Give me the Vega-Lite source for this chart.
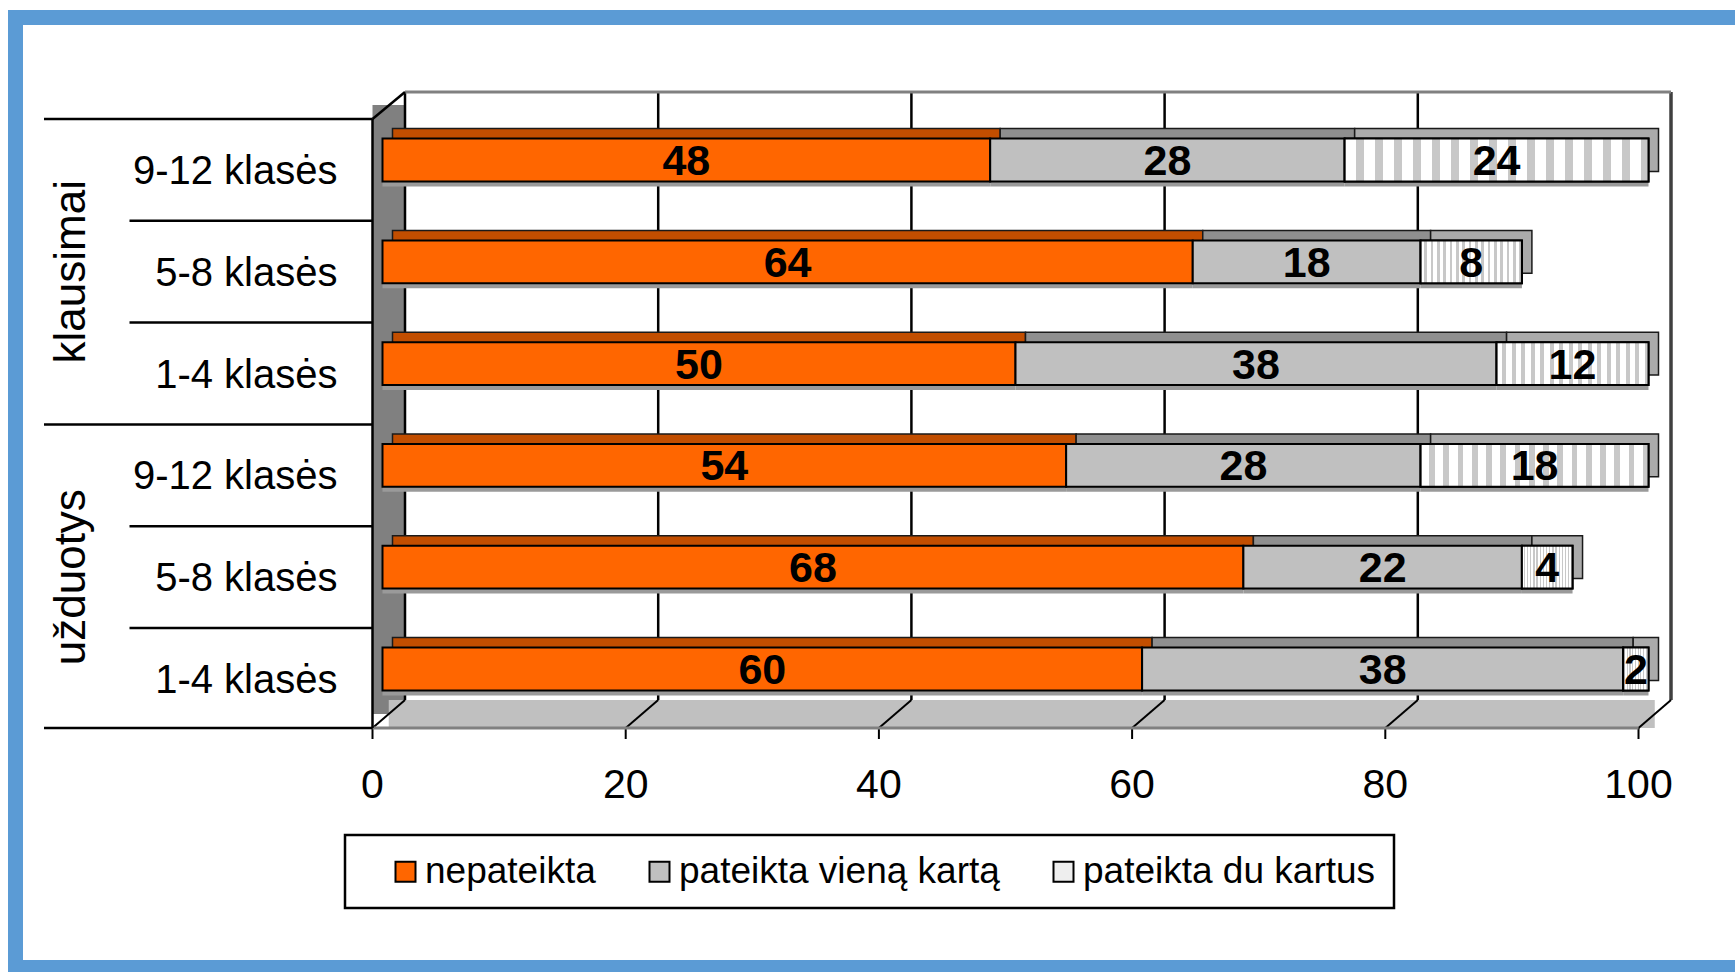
{
  "$schema": "https://vega.github.io/schema/vega-lite/v6.json",
  "autosize": {"type": "none"},
  "padding": {"left": 15.5, "top": 17.5, "right": 0, "bottom": 4.5},
  "width": 1719.5,
  "height": 950,
  "background": "white",
  "view": {"stroke": "#5B9BD5", "strokeWidth": 15, "strokeDash": [1719.5, 950, 2669.5], "strokeCap": "square", "fill": "white"},
  "datasets": {
    "bars": [
      {"row": "klausimai 9-12 klasės", "grupe": "klausimai", "klase": "9-12 klasės", "series": "nepateikta", "ord": 1, "value": 48},
      {"row": "klausimai 9-12 klasės", "grupe": "klausimai", "klase": "9-12 klasės", "series": "pateikta vieną kartą", "ord": 2, "value": 28},
      {"row": "klausimai 9-12 klasės", "grupe": "klausimai", "klase": "9-12 klasės", "series": "pateikta du kartus", "ord": 3, "value": 24},
      {"row": "klausimai 5-8 klasės", "grupe": "klausimai", "klase": "5-8 klasės", "series": "nepateikta", "ord": 1, "value": 64},
      {"row": "klausimai 5-8 klasės", "grupe": "klausimai", "klase": "5-8 klasės", "series": "pateikta vieną kartą", "ord": 2, "value": 18},
      {"row": "klausimai 5-8 klasės", "grupe": "klausimai", "klase": "5-8 klasės", "series": "pateikta du kartus", "ord": 3, "value": 8},
      {"row": "klausimai 1-4 klasės", "grupe": "klausimai", "klase": "1-4 klasės", "series": "nepateikta", "ord": 1, "value": 50},
      {"row": "klausimai 1-4 klasės", "grupe": "klausimai", "klase": "1-4 klasės", "series": "pateikta vieną kartą", "ord": 2, "value": 38},
      {"row": "klausimai 1-4 klasės", "grupe": "klausimai", "klase": "1-4 klasės", "series": "pateikta du kartus", "ord": 3, "value": 12},
      {"row": "užduotys 9-12 klasės", "grupe": "užduotys", "klase": "9-12 klasės", "series": "nepateikta", "ord": 1, "value": 54},
      {"row": "užduotys 9-12 klasės", "grupe": "užduotys", "klase": "9-12 klasės", "series": "pateikta vieną kartą", "ord": 2, "value": 28},
      {"row": "užduotys 9-12 klasės", "grupe": "užduotys", "klase": "9-12 klasės", "series": "pateikta du kartus", "ord": 3, "value": 18},
      {"row": "užduotys 5-8 klasės", "grupe": "užduotys", "klase": "5-8 klasės", "series": "nepateikta", "ord": 1, "value": 68},
      {"row": "užduotys 5-8 klasės", "grupe": "užduotys", "klase": "5-8 klasės", "series": "pateikta vieną kartą", "ord": 2, "value": 22},
      {"row": "užduotys 5-8 klasės", "grupe": "užduotys", "klase": "5-8 klasės", "series": "pateikta du kartus", "ord": 3, "value": 4},
      {"row": "užduotys 1-4 klasės", "grupe": "užduotys", "klase": "1-4 klasės", "series": "nepateikta", "ord": 1, "value": 60},
      {"row": "užduotys 1-4 klasės", "grupe": "užduotys", "klase": "1-4 klasės", "series": "pateikta vieną kartą", "ord": 2, "value": 38},
      {"row": "užduotys 1-4 klasės", "grupe": "užduotys", "klase": "1-4 klasės", "series": "pateikta du kartus", "ord": 3, "value": 2}
    ],
    "ticks": [{"v": 0}, {"v": 20}, {"v": 40}, {"v": 60}, {"v": 80}, {"v": 100}],
    "one": [{"k": 1}]
  },
  "data": {"name": "bars"},
  "layer": [
    {
      "data": {"name": "one"},
      "mark": {"type": "rule", "color": "#808080", "strokeWidth": 32.5, "xOffset": 6.25, "yOffset": -55, "y2Offset": 45},
      "encoding": {
        "x": {"datum": 0, "type": "quantitative", "axis": null, "scale": {"domain": [-28.989, 106.832], "nice": false, "zero": false}},
        "y": {"datum": "klausimai 9-12 klasės", "type": "nominal", "axis": null,
          "scale": {"domain": ["klausimai 9-12 klasės", "klausimai 5-8 klasės", "klausimai 1-4 klasės", "užduotys 9-12 klasės", "užduotys 5-8 klasės", "užduotys 1-4 klasės"], "range": [91.6, 702.4], "paddingInner": 0, "paddingOuter": 0}},
        "y2": {"datum": "užduotys 1-4 klasės"}
      }
    },
    {
      "data": {"name": "one"},
      "mark": {"type": "rule", "color": "#C0C0C0", "strokeWidth": 28, "xOffset": 6.25, "x2Offset": 6.25, "yOffset": 45},
      "encoding": {
        "x": {"datum": 0, "type": "quantitative", "axis": null},
        "x2": {"datum": 100},
        "y": {"datum": "užduotys 1-4 klasės", "type": "nominal", "axis": null}
      }
    },
    {
      "data": {"name": "ticks"},
      "mark": {"type": "rule", "xOffset": 22.5, "yOffset": -68, "y2Offset": 31},
      "encoding": {
        "x": {"field": "v", "type": "quantitative", "axis": null},
        "y": {"datum": "klausimai 9-12 klasės", "type": "nominal", "axis": null},
        "y2": {"datum": "užduotys 1-4 klasės"},
        "color": {"condition": {"test": "datum.v === 100", "value": "#404040"}, "value": "black"},
        "strokeWidth": {"condition": {"test": "datum.v === 100", "value": 3.5}, "value": 2.5}
      }
    },
    {
      "data": {"name": "one"},
      "mark": {"type": "rule", "color": "#808080", "strokeWidth": 3, "xOffset": 22.5, "x2Offset": 22.5, "yOffset": -68},
      "encoding": {
        "x": {"datum": 0, "type": "quantitative", "axis": null},
        "x2": {"datum": 100},
        "y": {"datum": "klausimai 9-12 klasės", "type": "nominal", "axis": null}
      }
    },
    {
      "data": {"name": "ticks"},
      "mark": {"type": "rule", "color": "black", "strokeWidth": 2, "xOffset": 22.5, "x2Offset": -10, "yOffset": 31, "y2Offset": 59},
      "encoding": {
        "x": {"field": "v", "type": "quantitative", "axis": null},
        "x2": {"field": "v"},
        "y": {"datum": "užduotys 1-4 klasės", "type": "nominal", "axis": null},
        "y2": {"datum": "užduotys 1-4 klasės"}
      }
    },
    {
      "data": {"name": "ticks"},
      "mark": {"type": "rule", "color": "black", "strokeWidth": 2, "xOffset": -10, "yOffset": 59, "y2Offset": 70},
      "encoding": {
        "x": {"field": "v", "type": "quantitative", "axis": null},
        "y": {"datum": "užduotys 1-4 klasės", "type": "nominal", "axis": null},
        "y2": {"datum": "užduotys 1-4 klasės"}
      }
    },
    {
      "data": {"name": "ticks"},
      "mark": {"type": "text", "font": "Liberation Sans", "fontSize": 41, "color": "black", "align": "center", "baseline": "middle", "xOffset": -10, "yOffset": 117},
      "encoding": {
        "x": {"field": "v", "type": "quantitative", "axis": null},
        "y": {"datum": "užduotys 1-4 klasės", "type": "nominal", "axis": null},
        "text": {"field": "v", "type": "quantitative"}
      }
    },
    {
      "data": {"name": "one"},
      "mark": {"type": "rule", "color": "#808080", "strokeWidth": 3, "xOffset": -10, "x2Offset": -10, "yOffset": 59},
      "encoding": {
        "x": {"datum": 0, "type": "quantitative", "axis": null},
        "x2": {"datum": 100},
        "y": {"datum": "užduotys 1-4 klasės", "type": "nominal", "axis": null}
      }
    },
    {
      "data": {"name": "one"},
      "mark": {"type": "rule", "color": "black", "strokeWidth": 2.5, "xOffset": -10, "yOffset": -41, "y2Offset": 59},
      "encoding": {
        "x": {"datum": 0, "type": "quantitative", "axis": null},
        "y": {"datum": "klausimai 9-12 klasės", "type": "nominal", "axis": null},
        "y2": {"datum": "užduotys 1-4 klasės"}
      }
    },
    {
      "data": {"name": "one"},
      "mark": {"type": "rule", "color": "black", "strokeWidth": 2.5, "xOffset": 22.5, "x2Offset": -10, "yOffset": -68, "y2Offset": -41},
      "encoding": {
        "x": {"datum": 0, "type": "quantitative", "axis": null},
        "x2": {"datum": 0},
        "y": {"datum": "klausimai 9-12 klasės", "type": "nominal", "axis": null},
        "y2": {"datum": "klausimai 9-12 klasės"}
      }
    },
    {
      "transform": [{"filter": "datum.series === 'nepateikta' && datum.klase !== '9-12 klasės'"}],
      "mark": {"type": "rule", "color": "black", "strokeWidth": 2.5, "x2Offset": -10, "yOffset": -41},
      "encoding": {
        "x": {"datum": -19.984, "type": "quantitative", "axis": null},
        "x2": {"datum": 0},
        "y": {"field": "row", "type": "nominal", "axis": null}
      }
    },
    {
      "transform": [{"filter": "datum.series === 'nepateikta' && datum.klase === '9-12 klasės'"}],
      "mark": {"type": "rule", "color": "black", "strokeWidth": 2.5, "x2Offset": -10, "yOffset": -41},
      "encoding": {
        "x": {"datum": -26.738, "type": "quantitative", "axis": null},
        "x2": {"datum": 0},
        "y": {"field": "row", "type": "nominal", "axis": null}
      }
    },
    {
      "data": {"name": "one"},
      "mark": {"type": "rule", "color": "black", "strokeWidth": 2.5, "x2Offset": -10, "yOffset": 59},
      "encoding": {
        "x": {"datum": -26.738, "type": "quantitative", "axis": null},
        "x2": {"datum": 0},
        "y": {"datum": "užduotys 1-4 klasės", "type": "nominal", "axis": null}
      }
    },
    {
      "mark": {"type": "bar", "height": {"band": 0.42}, "yOffset": 5, "fill": "#9A9A9A"},
      "encoding": {
        "x": {"field": "value", "type": "quantitative", "stack": "zero", "axis": null},
        "y": {"field": "row", "type": "nominal", "axis": null},
        "order": {"field": "ord", "type": "quantitative"}
      }
    },
    {
      "mark": {"type": "bar", "height": {"band": 0.42}, "xOffset": 10, "x2Offset": 10, "yOffset": -10, "stroke": "#1a1a1a", "strokeWidth": 1.5},
      "encoding": {
        "x": {"field": "value", "type": "quantitative", "stack": "zero", "axis": null},
        "y": {"field": "row", "type": "nominal", "axis": null},
        "order": {"field": "ord", "type": "quantitative"},
        "fill": {"condition": [
          {"test": "datum.series === 'nepateikta'", "value": "#C24E00"},
          {"test": "datum.series === 'pateikta vieną kartą'", "value": "#8F8F8F"}
        ], "value": "#ABABAB"}
      }
    },
    {
      "mark": {"type": "bar", "height": {"band": 0.42}, "stroke": "black", "strokeWidth": 2},
      "encoding": {
        "x": {"field": "value", "type": "quantitative", "stack": "zero", "axis": null},
        "y": {"field": "row", "type": "nominal", "axis": null},
        "order": {"field": "ord", "type": "quantitative"},
        "color": {
          "field": "series", "type": "nominal",
          "scale": {"domain": ["nepateikta", "pateikta vieną kartą", "pateikta du kartus"], "range": ["#FF6600", "#C0C0C0", "#EEEEEE"]},
          "legend": {"orient": "none", "legendX": 329.5, "legendY": 817.5, "direction": "horizontal",
            "title": " ", "titleOrient": "left", "titleFontSize": 2, "titlePadding": 24,
            "strokeColor": "black", "padding": 18, "columnPadding": 45,
            "labelFont": "Liberation Sans", "labelFontSize": 37, "labelColor": "black", "labelOffset": 1, "labelLimit": 600,
            "symbolType": "square", "symbolSize": 400, "symbolStrokeColor": "black", "symbolStrokeWidth": 2, "symbolOpacity": 1}
        }
      }
    },
    {
      "transform": [
        {"stack": "value", "groupby": ["row"], "sort": [{"field": "ord", "order": "ascending"}], "as": ["v0", "v1"]},
        {"filter": "datum.series === 'pateikta du kartus'"}
      ],
      "mark": {"type": "bar", "height": {"band": 0.42}, "stroke": "black", "strokeWidth": 2,
        "fill": {"gradient": "linear", "x1": 0, "x2": 1, "y1": 0, "y2": 0, "stops": [
            {"offset": 0, "color": "#FFFFFF"}, {"offset": 0.0375, "color": "#FFFFFF"}, {"offset": 0.0375, "color": "#C8C8C8"}, {"offset": 0.0625, "color": "#C8C8C8"},
            {"offset": 0.0625, "color": "#FFFFFF"}, {"offset": 0.1, "color": "#FFFFFF"}, {"offset": 0.1, "color": "#C8C8C8"}, {"offset": 0.125, "color": "#C8C8C8"},
            {"offset": 0.125, "color": "#FFFFFF"}, {"offset": 0.1625, "color": "#FFFFFF"}, {"offset": 0.1625, "color": "#C8C8C8"}, {"offset": 0.1875, "color": "#C8C8C8"},
            {"offset": 0.1875, "color": "#FFFFFF"}, {"offset": 0.225, "color": "#FFFFFF"}, {"offset": 0.225, "color": "#C8C8C8"}, {"offset": 0.25, "color": "#C8C8C8"},
            {"offset": 0.25, "color": "#FFFFFF"}, {"offset": 0.2875, "color": "#FFFFFF"}, {"offset": 0.2875, "color": "#C8C8C8"}, {"offset": 0.3125, "color": "#C8C8C8"},
            {"offset": 0.3125, "color": "#FFFFFF"}, {"offset": 0.35, "color": "#FFFFFF"}, {"offset": 0.35, "color": "#C8C8C8"}, {"offset": 0.375, "color": "#C8C8C8"},
            {"offset": 0.375, "color": "#FFFFFF"}, {"offset": 0.4125, "color": "#FFFFFF"}, {"offset": 0.4125, "color": "#C8C8C8"}, {"offset": 0.4375, "color": "#C8C8C8"},
            {"offset": 0.4375, "color": "#FFFFFF"}, {"offset": 0.475, "color": "#FFFFFF"}, {"offset": 0.475, "color": "#C8C8C8"}, {"offset": 0.5, "color": "#C8C8C8"},
            {"offset": 0.5, "color": "#FFFFFF"}, {"offset": 0.5375, "color": "#FFFFFF"}, {"offset": 0.5375, "color": "#C8C8C8"}, {"offset": 0.5625, "color": "#C8C8C8"},
            {"offset": 0.5625, "color": "#FFFFFF"}, {"offset": 0.6, "color": "#FFFFFF"}, {"offset": 0.6, "color": "#C8C8C8"}, {"offset": 0.625, "color": "#C8C8C8"},
            {"offset": 0.625, "color": "#FFFFFF"}, {"offset": 0.6625, "color": "#FFFFFF"}, {"offset": 0.6625, "color": "#C8C8C8"}, {"offset": 0.6875, "color": "#C8C8C8"},
            {"offset": 0.6875, "color": "#FFFFFF"}, {"offset": 0.725, "color": "#FFFFFF"}, {"offset": 0.725, "color": "#C8C8C8"}, {"offset": 0.75, "color": "#C8C8C8"},
            {"offset": 0.75, "color": "#FFFFFF"}, {"offset": 0.7875, "color": "#FFFFFF"}, {"offset": 0.7875, "color": "#C8C8C8"}, {"offset": 0.8125, "color": "#C8C8C8"},
            {"offset": 0.8125, "color": "#FFFFFF"}, {"offset": 0.85, "color": "#FFFFFF"}, {"offset": 0.85, "color": "#C8C8C8"}, {"offset": 0.875, "color": "#C8C8C8"},
            {"offset": 0.875, "color": "#FFFFFF"}, {"offset": 0.9125, "color": "#FFFFFF"}, {"offset": 0.9125, "color": "#C8C8C8"}, {"offset": 0.9375, "color": "#C8C8C8"},
            {"offset": 0.9375, "color": "#FFFFFF"}, {"offset": 0.975, "color": "#FFFFFF"}, {"offset": 0.975, "color": "#C8C8C8"}, {"offset": 1, "color": "#C8C8C8"}
          ]}},
      "encoding": {
        "x": {"field": "v0", "type": "quantitative", "axis": null},
        "x2": {"field": "v1"},
        "y": {"field": "row", "type": "nominal", "axis": null}
      }
    },
    {
      "mark": {"type": "text", "font": "Liberation Sans", "fontWeight": "bold", "fontSize": 43, "color": "black", "align": "center", "baseline": "middle", "dy": 2},
      "encoding": {
        "x": {"field": "value", "type": "quantitative", "stack": "zero", "bandPosition": 0.5, "axis": null},
        "y": {"field": "row", "type": "nominal", "axis": null},
        "order": {"field": "ord", "type": "quantitative"},
        "text": {"field": "value", "type": "quantitative"}
      }
    },
    {
      "transform": [{"filter": "datum.series === 'nepateikta'"}],
      "mark": {"type": "text", "font": "Liberation Sans", "fontSize": 40, "color": "black", "align": "right", "baseline": "middle", "yOffset": 12},
      "encoding": {
        "x": {"datum": -3.555, "type": "quantitative", "axis": null},
        "y": {"field": "row", "type": "nominal", "axis": null},
        "text": {"field": "klase", "type": "nominal"}
      }
    },
    {
      "transform": [{"filter": "datum.series === 'nepateikta' && datum.klase === '5-8 klasės'"}],
      "mark": {"type": "text", "font": "Liberation Sans", "fontSize": 44, "color": "black", "align": "center", "baseline": "middle", "angle": 270, "yOffset": 10},
      "encoding": {
        "x": {"datum": -24.526, "type": "quantitative", "axis": null},
        "y": {"field": "row", "type": "nominal", "axis": null},
        "text": {"field": "grupe", "type": "nominal"}
      }
    }
  ],
  "config": {"legend": {"strokeWidth": 2.5}}
}
